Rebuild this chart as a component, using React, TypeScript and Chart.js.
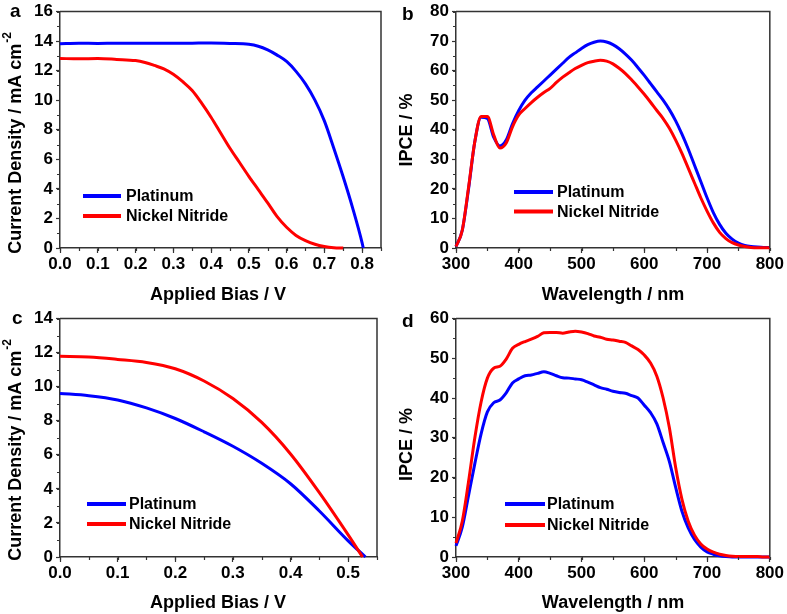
import React, { useEffect, useRef } from "react";
import { Chart, registerables } from "chart.js";
Chart.register(...registerables);

const FONT = "'Liberation Sans', Arial, Helvetica, sans-serif";
const BLUE = "#0000ff";
const RED = "#ff0000";
const SERIES_NAMES = ["Platinum", "Nickel Nitride"];

// ---------- Panel a : J-V ----------
const aPtBias = [0, 0.05, 0.1, 0.15, 0.2, 0.25, 0.3, 0.35, 0.4, 0.45, 0.5, 0.525, 0.55, 0.575, 0.6, 0.625, 0.65, 0.675, 0.7, 0.725, 0.75, 0.775, 0.8, 0.803];
const aPtJ = [13.82, 13.85, 13.84, 13.86, 13.85, 13.86, 13.85, 13.86, 13.87, 13.84, 13.78, 13.65, 13.4, 13.05, 12.62, 11.95, 11.1, 10.0, 8.6, 6.75, 4.8, 2.7, 0.35, 0];
const aNiBias = [0, 0.05, 0.1, 0.15, 0.2, 0.225, 0.25, 0.275, 0.3, 0.325, 0.35, 0.375, 0.4, 0.425, 0.45, 0.475, 0.5, 0.525, 0.55, 0.575, 0.6, 0.625, 0.65, 0.675, 0.7, 0.725, 0.75];
const aNiJ = [12.82, 12.8, 12.82, 12.76, 12.68, 12.55, 12.35, 12.12, 11.75, 11.25, 10.65, 9.8, 8.85, 7.8, 6.75, 5.8, 4.85, 3.95, 3.05, 2.12, 1.4, 0.85, 0.5, 0.25, 0.1, 0.02, 0];

// ---------- Panel b : IPCE ----------
const bWavelength = [300, 310, 320, 330, 340, 350, 360, 370, 380, 390, 400, 410, 420, 430, 440, 450, 460, 470, 480, 490, 500, 510, 520, 530, 540, 550, 560, 570, 580, 590, 600, 610, 620, 630, 640, 650, 660, 670, 680, 690, 700, 710, 720, 730, 740, 750, 760, 770, 780, 790, 800];
const bPt = [0.5, 6, 20, 36, 44.2, 43.8, 37.5, 34.5, 36.5, 42, 46.5, 50, 52.5, 54.5, 56.5, 58.5, 60.5, 62.5, 64.5, 66, 67.5, 68.8, 69.6, 70, 69.7, 68.8, 67.4, 65.6, 63.5, 61, 58.4, 55.6, 52.8, 50, 46.8, 43, 38.5, 33.5, 28, 22.5, 17, 12, 8, 5, 3, 1.7, 0.9, 0.5, 0.3, 0.2, 0.2];
const bNi = [0.5, 6, 20.5, 36, 44.5, 44.5, 38.3, 33.8, 35.5, 41, 45, 47.2, 49.2, 51, 52.6, 54, 56, 57.8, 59.3, 60.7, 61.8, 62.7, 63.2, 63.5, 63.2, 62.3, 60.8, 59, 56.8, 54.5, 52, 49.3, 46.5, 43.8, 40.5, 36.5, 32, 27, 22, 17, 12.5, 8.5, 5.3, 3.2, 1.8, 1.0, 0.5, 0.2, 0.1, 0.1, 0.1];

// ---------- Panel c : J-V ----------
const cPtBias = [0, 0.05, 0.1, 0.15, 0.2, 0.25, 0.3, 0.35, 0.4, 0.45, 0.5, 0.53];
const cPtJ = [9.6, 9.47, 9.22, 8.75, 8.13, 7.35, 6.5, 5.5, 4.3, 2.7, 0.95, 0];
const cNiBias = [0, 0.05, 0.1, 0.15, 0.2, 0.25, 0.3, 0.35, 0.4, 0.45, 0.5, 0.525];
const cNiJ = [11.78, 11.74, 11.6, 11.42, 11.05, 10.33, 9.3, 7.9, 6.05, 3.78, 1.3, 0];

// ---------- Panel d : IPCE ----------
const dWavelength = [300, 310, 320, 330, 340, 350, 360, 370, 380, 390, 400, 410, 420, 430, 440, 450, 460, 470, 480, 490, 500, 510, 520, 530, 540, 550, 560, 570, 580, 590, 600, 610, 620, 630, 640, 650, 660, 670, 680, 690, 700, 710, 720, 730, 740, 750, 760, 770, 780, 790, 800];
const dPt = [2.8, 7.5, 15.5, 23.5, 31, 36.5, 38.8, 39.5, 41.3, 43.8, 44.8, 45.6, 45.8, 46.2, 46.6, 46.2, 45.6, 45.1, 45, 44.8, 44.6, 44, 43.3, 42.6, 42.2, 41.7, 41.4, 41.2, 40.6, 40, 38.2, 36.3, 33.5, 28.8, 24, 17.5, 11.5, 7.3, 4.4, 2.5, 1.3, 0.7, 0.3, 0.1, 0, 0, 0, 0, 0, 0, 0];
const dNi = [3.5, 9, 19, 30, 39, 45, 47.5, 48, 49.8, 52.5, 53.5, 54.2, 54.8, 55.5, 56.4, 56.5, 56.5, 56.3, 56.6, 56.8, 56.6, 56.2, 55.6, 55.3, 54.8, 54.6, 54.3, 54, 53.1, 52.2, 50.8, 48.8, 45.5, 40, 32.5, 22.5, 14.5, 9, 5.5, 3.3, 2, 1.2, 0.7, 0.4, 0.2, 0.1, 0.1, 0.1, 0.1, 0, 0];

const JV_X_TITLE = "Applied Bias / V";
const JV_Y_TITLE = "Current Density / mA cm";
const JV_Y_SUP = "-2";
const IPCE_X_TITLE = "Wavelength / nm";
const IPCE_Y_TITLE = "IPCE / %";

const pts = (xs: number[], ys: number[]) => xs.map((x, i) => ({ x, y: ys[i] }));

type Panel = {
  label: string;
  box: { left: number; top: number; w: number; h: number };
  plot: { l: number; t: number; r: number; b: number };
  x: { min: number; max: number; step: number; minor: number; dec: number };
  y: { min: number; max: number; step: number; minor: number };
  pt: { x: number; y: number }[];
  ni: { x: number; y: number }[];
  xTitle: string;
  xTitlePos: [number, number];
  yTitle: string;
  ySup?: string;
  yTitlePos: [number, number];
  labelPos: [number, number];
  legend: { x1: number; x2: number; tx: number; y1: number; y2: number };
};

const PANELS: Panel[] = [
  {
    label: "a",
    box: { left: 0, top: 0, w: 390, h: 307 },
    plot: { l: 60, t: 8, r: 381, b: 248 },
    x: { min: 0, max: 0.85, step: 0.1, minor: 0.05, dec: 1 },
    y: { min: 0, max: 16, step: 2, minor: 1 },
    pt: pts(aPtBias, aPtJ),
    ni: pts(aNiBias, aNiJ),
    xTitle: JV_X_TITLE,
    xTitlePos: [218, 295],
    yTitle: JV_Y_TITLE,
    ySup: JV_Y_SUP,
    yTitlePos: [16, 143],
    labelPos: [10, 17],
    legend: { x1: 83, x2: 121, tx: 126, y1: 196, y2: 216 },
  },
  {
    label: "b",
    box: { left: 390, top: 0, w: 397, h: 307 },
    plot: { l: 66, t: 8, r: 381, b: 248 },
    x: { min: 300, max: 800, step: 100, minor: 50, dec: 0 },
    y: { min: 0, max: 80, step: 10, minor: 5 },
    pt: pts(bWavelength, bPt),
    ni: pts(bWavelength, bNi),
    xTitle: IPCE_X_TITLE,
    xTitlePos: [223, 295],
    yTitle: IPCE_Y_TITLE,
    yTitlePos: [17, 130],
    labelPos: [12, 20],
    legend: { x1: 124, x2: 163, tx: 167, y1: 192, y2: 211.5 },
  },
  {
    label: "c",
    box: { left: 0, top: 307, w: 390, h: 307 },
    plot: { l: 60, t: 10, r: 377, b: 250 },
    x: { min: 0, max: 0.55, step: 0.1, minor: 0.05, dec: 1 },
    y: { min: 0, max: 14, step: 2, minor: 1 },
    pt: pts(cPtBias, cPtJ),
    ni: pts(cNiBias, cNiJ),
    xTitle: JV_X_TITLE,
    xTitlePos: [218, 296],
    yTitle: JV_Y_TITLE,
    ySup: JV_Y_SUP,
    yTitlePos: [16, 143],
    labelPos: [12, 16.5],
    legend: { x1: 87, x2: 126, tx: 129, y1: 197, y2: 217 },
  },
  {
    label: "d",
    box: { left: 390, top: 307, w: 397, h: 307 },
    plot: { l: 66, t: 10, r: 381, b: 250 },
    x: { min: 300, max: 800, step: 100, minor: 50, dec: 0 },
    y: { min: 0, max: 60, step: 10, minor: 5 },
    pt: pts(dWavelength, dPt),
    ni: pts(dWavelength, dNi),
    xTitle: IPCE_X_TITLE,
    xTitlePos: [223, 296],
    yTitle: IPCE_Y_TITLE,
    yTitlePos: [17, 137.5],
    labelPos: [12, 19.5],
    legend: { x1: 115, x2: 155, tx: 157, y1: 197, y2: 218 },
  },
];

const AXIS = "#333";

function makeDecor(p: Panel) {
  return {
    id: "decor-" + p.label,
    afterDraw(chart: any) {
      const ctx: CanvasRenderingContext2D = chart.ctx;
      const { left, top, right, bottom } = chart.chartArea;
      const xs = chart.scales.x;
      const ys = chart.scales.y;
      ctx.save();
      // top and right frame
      ctx.strokeStyle = AXIS;
      ctx.lineWidth = 1.5;
      ctx.beginPath();
      ctx.moveTo(left, top);
      ctx.lineTo(right, top);
      ctx.lineTo(right, bottom);
      ctx.stroke();
      // minor ticks
      ctx.lineWidth = 1.2;
      ctx.beginPath();
      const nx = Math.round((p.x.max - p.x.min) / p.x.minor);
      for (let i = 0; i <= nx; i++) {
        const px = Math.round(xs.getPixelForValue(p.x.min + i * p.x.minor)) + 0.5;
        ctx.moveTo(px, bottom);
        ctx.lineTo(px, bottom + 3);
      }
      const ny = Math.round((p.y.max - p.y.min) / p.y.minor);
      for (let i = 0; i <= ny; i++) {
        const py = Math.round(ys.getPixelForValue(p.y.min + i * p.y.minor)) + 0.5;
        ctx.moveTo(left, py);
        ctx.lineTo(left - 3, py);
      }
      ctx.stroke();

      // legend
      const lg = p.legend;
      ctx.lineWidth = 4;
      ctx.strokeStyle = BLUE;
      ctx.beginPath();
      ctx.moveTo(lg.x1, lg.y1);
      ctx.lineTo(lg.x2, lg.y1);
      ctx.stroke();
      ctx.strokeStyle = RED;
      ctx.beginPath();
      ctx.moveTo(lg.x1, lg.y2);
      ctx.lineTo(lg.x2, lg.y2);
      ctx.stroke();
      ctx.fillStyle = "#000";
      ctx.font = `bold 16px ${FONT}`;
      ctx.textAlign = "left";
      ctx.textBaseline = "middle";
      ctx.fillText(SERIES_NAMES[0], lg.tx, lg.y1 + 1);
      ctx.fillText(SERIES_NAMES[1], lg.tx, lg.y2 + 1);

      // x title
      ctx.font = `bold 18px ${FONT}`;
      ctx.textAlign = "center";
      ctx.fillText(p.xTitle, p.xTitlePos[0], p.xTitlePos[1]);

      // y title (rotated, with superscript)
      ctx.save();
      ctx.translate(p.yTitlePos[0], p.yTitlePos[1]);
      ctx.rotate(-Math.PI / 2);
      ctx.font = `bold 18px ${FONT}`;
      const w1 = ctx.measureText(p.yTitle).width;
      let w2 = 0;
      if (p.ySup) {
        ctx.font = `bold 12px ${FONT}`;
        w2 = ctx.measureText(p.ySup).width + 1;
      }
      const start = -(w1 + w2) / 2;
      ctx.textAlign = "left";
      ctx.font = `bold 18px ${FONT}`;
      ctx.fillText(p.yTitle, start, 0);
      if (p.ySup) {
        ctx.font = `bold 12px ${FONT}`;
        ctx.fillText(p.ySup, start + w1 + 1, -8);
      }
      ctx.restore();

      // panel label
      ctx.font = `bold 19px ${FONT}`;
      ctx.textAlign = "left";
      ctx.textBaseline = "alphabetic";
      ctx.fillText(p.label, p.labelPos[0], p.labelPos[1]);
      ctx.restore();
    },
  };
}

function PanelChart({ p }: { p: Panel }) {
  const ref = useRef<HTMLCanvasElement | null>(null);
  useEffect(() => {
    if (!ref.current) return;
    const tickFont = { family: FONT, size: 17, weight: "bold" as const, lineHeight: 1 };
    const chart = new Chart(ref.current, {
      type: "line",
      data: {
        datasets: [
          {
            label: SERIES_NAMES[0],
            data: p.pt,
            borderColor: BLUE,
            backgroundColor: BLUE,
            borderWidth: 3,
            pointRadius: 0,
            cubicInterpolationMode: "monotone",
            order: 1,
            clip: 3,
          },
          {
            label: SERIES_NAMES[1],
            data: p.ni,
            borderColor: RED,
            backgroundColor: RED,
            borderWidth: 3,
            pointRadius: 0,
            cubicInterpolationMode: "monotone",
            order: 0,
            clip: 3,
          },
        ],
      },
      options: {
        responsive: false,
        animation: false,
        devicePixelRatio: 1,
        layout: {
          padding: { left: 0, top: p.plot.t, right: p.box.w - p.plot.r, bottom: 0 },
        },
        plugins: { legend: { display: false }, tooltip: { enabled: false }, title: { display: false } },
        scales: {
          x: {
            type: "linear",
            min: p.x.min,
            max: p.x.max,
            afterFit: (s: any) => {
              s.height = p.box.h - p.plot.b;
            },
            border: { display: true, color: AXIS, width: 1.5 },
            grid: { drawOnChartArea: false, drawTicks: true, tickLength: 5, tickColor: AXIS, tickWidth: 1.2 },
            ticks: {
              stepSize: p.x.step,
              includeBounds: false,
              autoSkip: false,
              maxRotation: 0,
              padding: 3,
              color: "#000",
              font: tickFont,
              callback: (v: any) => Number(v).toFixed(p.x.dec),
            },
          },
          y: {
            type: "linear",
            min: p.y.min,
            max: p.y.max,
            afterFit: (s: any) => {
              s.width = p.plot.l;
            },
            border: { display: true, color: AXIS, width: 1.5 },
            grid: { drawOnChartArea: false, drawTicks: true, tickLength: 4, tickColor: AXIS, tickWidth: 1.2 },
            ticks: {
              stepSize: p.y.step,
              autoSkip: false,
              padding: 3,
              color: "#000",
              font: tickFont,
              callback: (v: any) => String(v),
            },
          },
        },
      },
      plugins: [makeDecor(p)],
    } as any);
    return () => chart.destroy();
  }, [p]);
  return (
    <canvas
      ref={ref}
      width={p.box.w}
      height={p.box.h}
      style={{ position: "absolute", left: p.box.left, top: p.box.top, width: p.box.w, height: p.box.h }}
    />
  );
}

export default function App() {
  return (
    <div style={{ position: "absolute", left: 0, top: 0, width: 787, height: 614, background: "#fff", overflow: "hidden" }}>
      {PANELS.map((p) => (
        <PanelChart key={p.label} p={p} />
      ))}
    </div>
  );
}
